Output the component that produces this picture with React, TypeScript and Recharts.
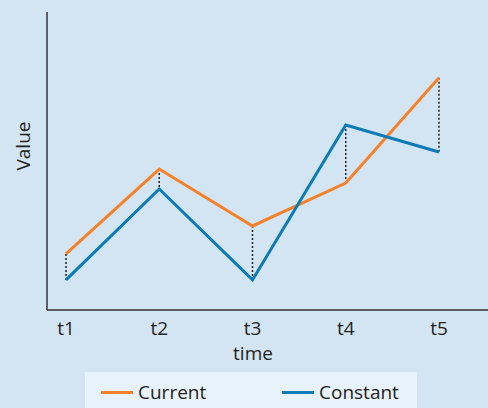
import { LineChart, Line, XAxis, YAxis, ReferenceLine, Legend, Label } from "recharts";

const times = ["t1", "t2", "t3", "t4", "t5"];
const current = [18.8, 47.3, 28.2, 42.6, 77.9];
const constant = [10.1, 40.6, 10.1, 62.1, 53.0];
const seriesNames = ["Current", "Constant"];

const data = times.map((t, i) => ({ time: t, current: current[i], constant: constant[i] }));

const ink = "#231f20";
const font = "'Open Sans'";

const renderLegend = ({ payload }: any) => {
  const items = [...payload].sort((a: any, b: any) => seriesNames.indexOf(a.value) - seriesNames.indexOf(b.value));
  return (
    <div
      style={{
        display: "flex",
        alignItems: "center",
        height: 40,
        paddingLeft: 16,
        background: "#e8f2fa",
        boxSizing: "border-box",
        overflow: "hidden",
      }}
    >
      {items.map((entry: any) => (
        <div key={entry.value} style={{ display: "flex", alignItems: "center", width: 181, flexShrink: 0 }}>
          <span style={{ display: "inline-block", width: 32, height: 3, background: entry.color, marginRight: 5 }} />
          <span style={{ fontSize: 19, color: ink, fontFamily: font }}>{entry.value}</span>
        </div>
      ))}
    </div>
  );
};

const App = () => {
  return (
    <div style={{ position: "absolute", left: 0, top: 0, width: 488, height: 408, background: "#d3e4f2", fontFamily: font }}>
      <LineChart
        width={488}
        height={408}
        data={data}
        margin={{ top: 12, right: 0, bottom: 38, left: 0 }}
        style={{ fontFamily: font }}
      >
        <XAxis
          dataKey="time"
          height={60}
          padding={{ left: 19, right: 49 }}
          interval={0}
          tickLine={false}
          tickMargin={6}
          axisLine={{ stroke: "#333", strokeWidth: 1.5 }}
          tick={{ fill: ink, fontSize: 19 }}
        >
          <Label
            content={({ viewBox }: any) => (
              <text x={253} y={viewBox.y + 50} textAnchor="middle" fill={ink} fontSize={19}>
                time
              </text>
            )}
          />
        </XAxis>
        <YAxis
          width={47}
          domain={[0, 100]}
          tick={false}
          tickLine={false}
          axisLine={{ stroke: "#333", strokeWidth: 1.5 }}
        >
          <Label
            content={({ viewBox }: any) => {
              const x = viewBox.x + 30;
              const y = 146;
              return (
                <text x={x} y={y} textAnchor="middle" fill={ink} fontSize={19} transform={`rotate(-90 ${x} ${y})`}>
                  Value
                </text>
              );
            }}
          />
        </YAxis>
        {times.map((t, i) => (
          <ReferenceLine
            key={t}
            segment={[
              { x: t, y: current[i] },
              { x: t, y: constant[i] },
            ]}
            stroke="#222"
            strokeWidth={1.5}
            strokeDasharray="2 2"
          />
        ))}
        <Line dataKey="current" name="Current" stroke="#f5822a" strokeWidth={3} dot={false} isAnimationActive={false} />
        <Line dataKey="constant" name="Constant" stroke="#0b7bb6" strokeWidth={3} dot={false} isAnimationActive={false} />
        <Legend
          layout="horizontal"
          verticalAlign="middle"
          align="center"
          content={renderLegend}
          wrapperStyle={{ left: 85, top: 372, width: 332 }}
        />
      </LineChart>
    </div>
  );
};

export default App;
